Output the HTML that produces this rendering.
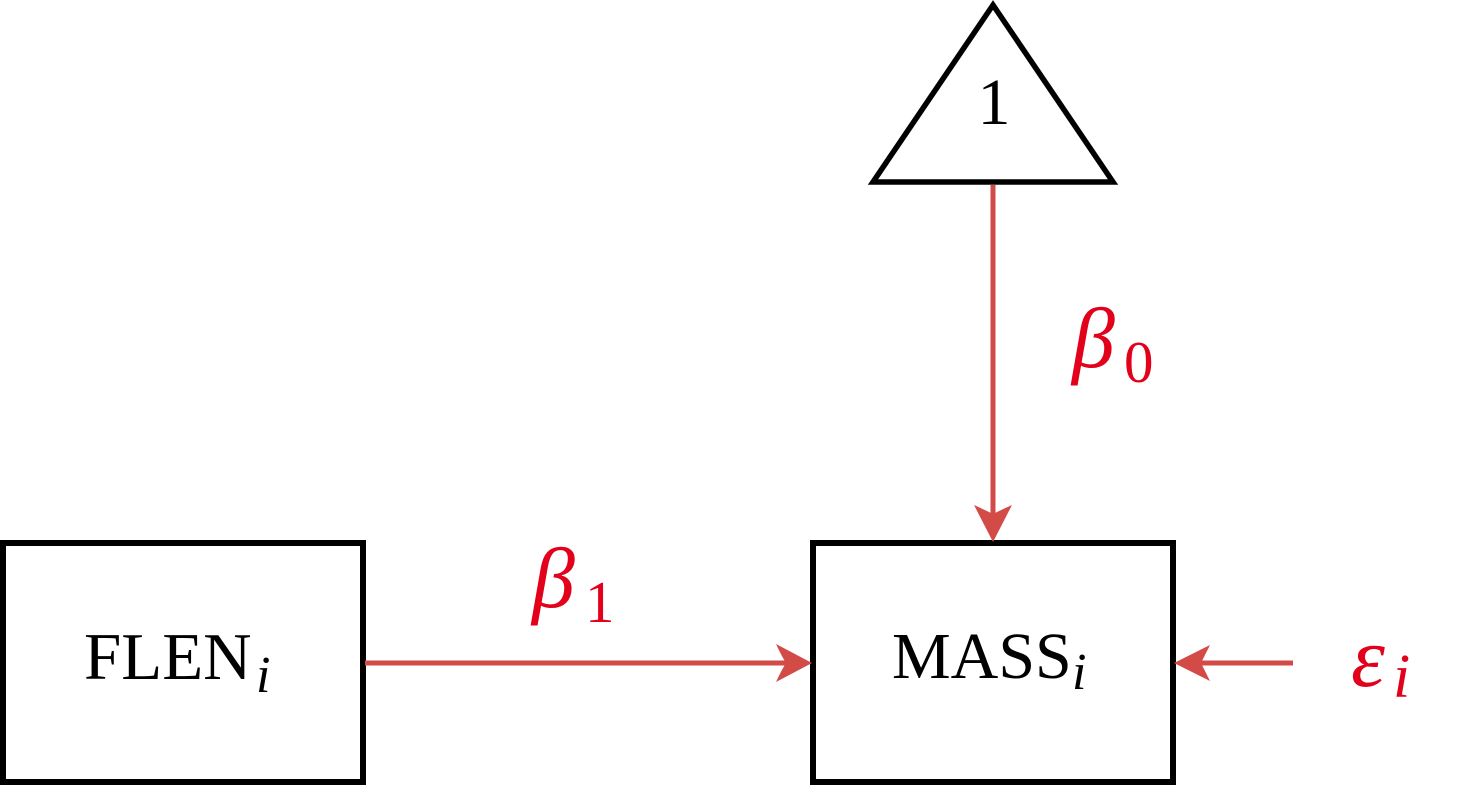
<!DOCTYPE html>
<html>
<head>
<meta charset="utf-8">
<style>
  html, body { margin: 0; padding: 0; background: #ffffff; }
  svg { display: block; }
  text { font-family: "Liberation Serif", "DejaVu Serif", serif; }
</style>
</head>
<body>
<svg width="1473" height="786" viewBox="0 0 1473 786" xmlns="http://www.w3.org/2000/svg">
  <rect x="0" y="0" width="1473" height="786" fill="#ffffff"/>

  <!-- Triangle -->
  <polygon points="993,5 873,182 1113,182" fill="#ffffff" stroke="#000" stroke-width="5.5" stroke-linejoin="miter"/>
  <text x="994" y="124" font-size="66" text-anchor="middle" fill="#000">1</text>

  <!-- Boxes -->
  <rect x="3" y="543" width="360" height="239" fill="#ffffff" stroke="#000" stroke-width="6"/>
  <rect x="813" y="543" width="360" height="239" fill="#ffffff" stroke="#000" stroke-width="6"/>

  <!-- Box labels -->
  <text x="84" y="679" font-size="67" fill="#000">FLEN</text>
  <text x="256" y="692" font-size="52" font-style="italic" fill="#000">i</text>

  <text x="892" y="678" font-size="66" fill="#000">MASS</text>
  <text x="1072" y="689" font-size="52" font-style="italic" fill="#000">i</text>

  <!-- Connectors -->
  <g stroke="#d34b47" stroke-width="5" fill="none">
    <line x1="993" y1="185" x2="993" y2="514"/>
    <line x1="365" y1="663" x2="787" y2="663"/>
    <line x1="1200" y1="663" x2="1293" y2="663"/>
  </g>
  <g fill="#d34b47" stroke="none">
    <path d="M993,542 L974,505 Q985,510 993,514 Q1001,510 1012,505 Z"/>
    <path d="M812,663 L776,644 Q781,655 786,663 Q781,671 776,682 Z"/>
    <path d="M1174,663 L1210,645 Q1205,655 1201,663 Q1205,671 1210,681 Z"/>
  </g>

  <!-- Coefficient labels -->
  <text x="1072" y="367" font-size="86" font-style="italic" fill="#e2001a">β</text>
  <text x="1124" y="382" font-size="59" fill="#e2001a">0</text>

  <text x="532" y="607" font-size="86" font-style="italic" fill="#e2001a">β</text>
  <text x="585" y="622" font-size="59" fill="#e2001a">1</text>

  <text x="1351" y="686" font-size="86" font-style="italic" fill="#e2001a">ε</text>
  <text x="1393" y="697" font-size="62" font-style="italic" fill="#e2001a">i</text>
</svg>
</body>
</html>
